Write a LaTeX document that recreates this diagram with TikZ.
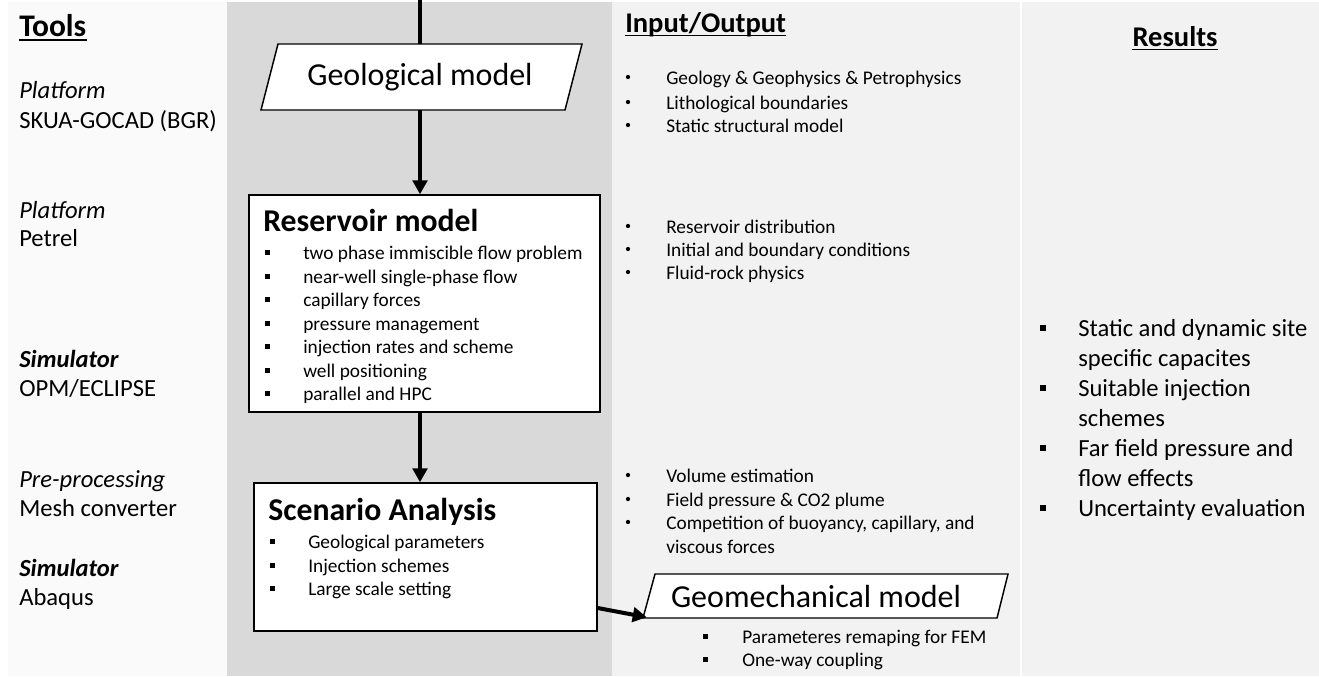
\documentclass[tikz,border=0pt]{standalone}
\usepackage{fontspec}
\setmainfont{Carlito}
\usetikzlibrary{arrows.meta,calc}
\definecolor{colL}{HTML}{FAFAFA}
\definecolor{colG}{HTML}{D9D9D9}
\definecolor{colIO}{HTML}{F2F2F2}
\newcommand\sqbul[3]{\fill (#1-#3/2,#2-#3/2) rectangle ++(#3,#3);}
\newcommand\dotbul[2]{\fill (#1,#2) circle[radius=1.6pt];}
\begin{document}
\begin{tikzpicture}[x=0.75pt,y=-0.75pt,
  boxst/.style={draw=black, line width=1.1pt, fill=white, inner sep=0pt},
  arr/.style={line width=3pt, -{Triangle[length=10.5pt,width=11pt]}},
  flowline/.style={line width=3pt},
  lt/.style={anchor=mid west, inner sep=0pt, yshift=-3.75pt, font=\fontsize{18.45}{22}\selectfont},
  lti/.style={lt, font=\fontsize{18.45}{22}\selectfont\itshape},
  ltb/.style={lt, font=\fontsize{18.45}{22}\selectfont\bfseries\itshape},
  it/.style={anchor=mid west, inner sep=0pt, yshift=-3pt, font=\fontsize{14.5}{17}\selectfont},
  rt/.style={lt},
  head/.style={inner sep=0pt, font=\fontsize{21.4}{25}\selectfont\bfseries},
  ttl/.style={anchor=base west, inner sep=0pt, font=\fontsize{23.8}{28}\selectfont\bfseries},
  big/.style={inner sep=0pt, font=\fontsize{24}{28}\selectfont},
  uline/.style={line width=1.4pt}
]
\useasboundingbox (0,0) rectangle (1319,676);
\fill[white] (0,0) rectangle (1319,676);
\fill[colL] (8,2) rectangle (227,676);
\fill[colG] (227,2) rectangle (612,676);
\fill[colIO] (612,2) rectangle (1020,676);
\fill[colIO] (1022,2) rectangle (1319,676);

% ---------- headings ----------
\node[head, anchor=base west, font=\fontsize{23.6}{28}\selectfont\bfseries] (tools) at (19,36) {Tools};
\draw[uline] ([yshift=-3pt]tools.base west) -- ([yshift=-3pt]tools.base east);
\node[head, anchor=base west] (io) at (625,32) {Input/Output};
\draw[uline] ([yshift=-2.6pt]io.base west) -- ([yshift=-2.6pt]io.base east);
\node[head, anchor=base] (results) at (1175,46) {Results};
\draw[uline] ([yshift=-2.6pt]results.base west) -- ([yshift=-2.6pt]results.base east);

% ---------- tools column ----------
\node[lti] (t1) at (19,90) {Platform};
\node[lt]  (t2) at (19,120) {SKUA-GOCAD (BGR)};
\node[lti] (t3) at (19,210) {Platform};
\node[lt]  (t4) at (19,238) {Petrel};
\node[ltb] (t5) at (19,359) {Simulator};
\node[lt]  (t6) at (19,388) {OPM/ECLIPSE};
\node[lti] (t7) at (19,479) {Pre-processing};
\node[lt]  (t8) at (19,508) {Mesh converter};
\node[ltb] (t9) at (19,568) {Simulator};
\node[lt]  (t10) at (19,597) {Abaqus};

% ---------- geological model ----------
\draw[line width=1.1pt, fill=white] (278,44) -- (582,44) -- (565,110) -- (261,110) -- cycle;
\node[big, minimum width=210pt, minimum height=49.5pt] (geo) at (420,77) {Geological model};

% ---------- reservoir model ----------
\node[boxst, minimum width=263.25pt, minimum height=162.75pt] (res) at (424.5,303.5) {};
\node[ttl] (restitle) at (263,231) {Reservoir model};
\foreach \t/\yy [count=\i] in {two phase immiscible flow problem/252,
  near-well single-phase flow/276, capillary forces/299, pressure management/323,
  injection rates and scheme/346, well positioning/370, parallel and HPC/393}{
  \sqbul{267}{\yy}{5}
  \node[it] (r\i) at (303,\yy) {\t};
}

% ---------- scenario analysis ----------
\node[boxst, minimum width=257.25pt, minimum height=111pt] (scen) at (425.5,557) {};
\node[ttl] (scentitle) at (268,520) {Scenario Analysis};
\foreach \t/\yy [count=\i] in {Geological parameters/541, Injection schemes/565, Large scale setting/588}{
  \sqbul{272}{\yy}{5}
  \node[it] (s\i) at (308,\yy) {\t};
}

% ---------- geomechanical model ----------
\draw[line width=1.1pt, fill=white] (655,574) -- (1008,574) -- (997,618) -- (643,618) -- cycle;
\node[big, minimum width=253.5pt, minimum height=31.5pt] (geomech) at (816,596) {Geomechanical model};
\foreach \t/\yy [count=\i] in {Parameteres remaping for FEM/636, One-way coupling/659}{
  \sqbul{705}{\yy}{5}
  \node[it] (g\i) at (742,\yy) {\t};
}

% ---------- connectors ----------
\coordinate (topend) at (420,0);
\draw[flowline] (topend) -- (geo.north);
\draw[arr] (geo.south) -- (geo.south |- res.north);
\draw[arr] (res.south -| geo.south) -- (scen.north -| geo.south);
\draw[arr] ([yshift=-38.25pt]scen.east) -- (geomech.south west);

% ---------- input / output ----------
\foreach \t/\yy [count=\i] in {Geology \& Geophysics \& Petrophysics/77, Lithological boundaries/102,
  Static structural model/125, Reservoir distribution/226, Initial and boundary conditions/249,
  Fluid-rock physics/272, Volume estimation/475, Field pressure \& CO2 plume/499,
  {Competition of buoyancy, capillary, and}/522}{
  \dotbul{628}{\yy}
  \node[it] (io\i) at (666,\yy) {\t};
}
\node[it] (io10) at (666,546) {viscous forces};

% ---------- results ----------
\foreach \yy in {328, 388, 448, 508}{
  \sqbul{1043}{\yy}{6.5}
}
\node[rt] (re1) at (1078,328) {Static and dynamic site};
\node[rt] (re2) at (1078,358) {specific capacites};
\node[rt] (re3) at (1078,388) {Suitable injection};
\node[rt] (re4) at (1078,418) {schemes};
\node[rt] (re5) at (1078,448) {Far field pressure and};
\node[rt] (re6) at (1078,478) {flow effects};
\node[rt] (re7) at (1078,508) {Uncertainty evaluation};
\end{tikzpicture}
\end{document}
